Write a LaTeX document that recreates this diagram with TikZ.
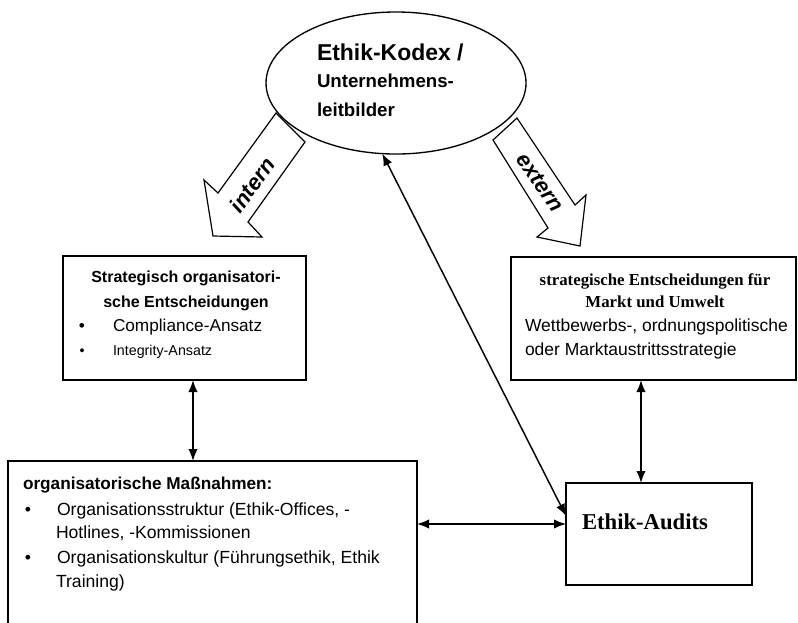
\documentclass[tikz,border=0pt]{standalone}
\usepackage{fontspec}
\setmainfont{Liberation Serif}
\setsansfont{Liberation Sans}
\usetikzlibrary{arrows.meta,fit,shapes.geometric}

\newcommand\setfs[1]{\fontsize{#1}{#1}\selectfont}

\begin{document}
\begin{tikzpicture}[x=0.75pt,y=-0.75pt,
  box/.style={draw, line width=1.2pt, inner sep=0pt, outer sep=0pt},
  conn/.style={line width=1.1pt, {Latex[length=9pt,width=7pt]}-{Latex[length=9pt,width=7pt]}},
  blockarrow/.style={draw, line width=0.9pt, fill=white, line join=miter},
  txt/.style={inner sep=0pt, outer sep=0pt, font=\sffamily},
  ser/.style={inner sep=0pt, outer sep=0pt, font=\rmfamily\bfseries},
]
\useasboundingbox (0,0) rectangle (798,622);
\fill[white] (0,0) rectangle (798,622);

% broad arrows leaving the code of ethics
\draw[blockarrow] (276,113) -- (218,193) -- (204,180) -- (213,236) -- (262,237) -- (248,222) -- (305,142) -- cycle;
\draw[blockarrow] (517,118) -- (493,140) -- (548,228) -- (537,237) -- (580,246) -- (586,195) -- (575,205) -- cycle;
\node[txt, font=\sffamily\bfseries\itshape\setfs{16.5pt}, rotate=54] (intern) at (252,185) {intern};
\node[txt, font=\sffamily\bfseries\itshape\setfs{16.5pt}, rotate=-55] (extern) at (540,182) {extern};

% code of ethics
\node[ellipse, draw, line width=1pt, minimum width=195pt, minimum height=106.5pt, inner sep=0pt, outer sep=0pt] (kodex) at (396,83) {};
\node[txt, anchor=base west, font=\sffamily\bfseries\setfs{17.2pt}] (kodex1) at (317,60) {Ethik-Kodex /};
\node[txt, anchor=base west, font=\sffamily\bfseries\setfs{14pt}] (kodex2) at (317,87) {Unternehmens-};
\node[txt, anchor=base west, font=\sffamily\bfseries\setfs{14pt}] (kodex3) at (317,116) {leitbilder};

% boxes
\node[box, fit={(63,256) (306,380)}] (strat) {};
\node[box, fit={(511,257) (796,380)}] (markt) {};
\node[box, fit={(8,461) (417,640)}] (org) {};
\node[box, fit={(566,483) (752,585)}] (audits) {};

% strategic organisational decisions
\node[txt, anchor=base, font=\sffamily\bfseries\setfs{12pt}] (s1) at (186,282) {Strategisch organisatori-};
\node[txt, anchor=base, font=\sffamily\bfseries\setfs{12pt}] (s2) at (186,307) {sche Entscheidungen};
\node[txt, anchor=base, font=\sffamily\setfs{12.9pt}] (sb1) at (82,331) {•};
\node[txt, anchor=base west, font=\sffamily\setfs{12.9pt}] (s3) at (113,331) {Compliance-Ansatz};
\node[txt, anchor=base, font=\sffamily\setfs{10.7pt}] (sb2) at (82,355) {•};
\node[txt, anchor=base west, font=\sffamily\setfs{10.7pt}] (s4) at (113,355) {Integrity-Ansatz};

% market and environment
\node[ser, anchor=base, font=\rmfamily\bfseries\setfs{12.6pt}] (m1) at (655,285) {strategische Entscheidungen für};
\node[ser, anchor=base, font=\rmfamily\bfseries\setfs{12.6pt}] (m2) at (655,307) {Markt und Umwelt};
\node[txt, anchor=base west, font=\sffamily\setfs{13.1pt}] (m3) at (525,331) {Wettbewerbs-, ordnungspolitische};
\node[txt, anchor=base west, font=\sffamily\setfs{13.1pt}] (m4) at (525,355) {oder Marktaustrittsstrategie};

% organisational measures
\node[txt, anchor=base west, font=\sffamily\bfseries\setfs{12.9pt}] (o0) at (23,489) {organisatorische Maßnahmen:};
\node[txt, anchor=base, font=\sffamily\setfs{13.2pt}] (ob1) at (28,515) {•};
\node[txt, anchor=base west, font=\sffamily\setfs{13.2pt}] (o1) at (57,515) {Organisationsstruktur (Ethik-Offices, -};
\node[txt, anchor=base west, font=\sffamily\setfs{13.2pt}] (o2) at (56,538) {Hotlines, -Kommissionen};
\node[txt, anchor=base, font=\sffamily\setfs{13.2pt}] (ob2) at (28,563) {•};
\node[txt, anchor=base west, font=\sffamily\setfs{13.2pt}] (o3) at (57,563) {Organisationskultur (Führungsethik, Ethik};
\node[txt, anchor=base west, font=\sffamily\setfs{13.2pt}] (o4) at (56,587) {Training)};

% audits
\node[ser, anchor=base west, font=\rmfamily\bfseries\setfs{17pt}] (a1) at (582,529) {Ethik-Audits};

% connectors
\coordinate (lx) at (193,0);
\coordinate (rx) at (641,0);
\coordinate (hy) at (0,524);
\draw[conn] (strat.south -| lx) -- (org.north -| lx);
\draw[conn] (markt.south -| rx) -- (audits.north -| rx);
\draw[conn] (org.east |- hy) -- (audits.west |- hy);
\draw[conn] (kodex.-101.6) -- (audits.169.5);
\end{tikzpicture}
\end{document}
